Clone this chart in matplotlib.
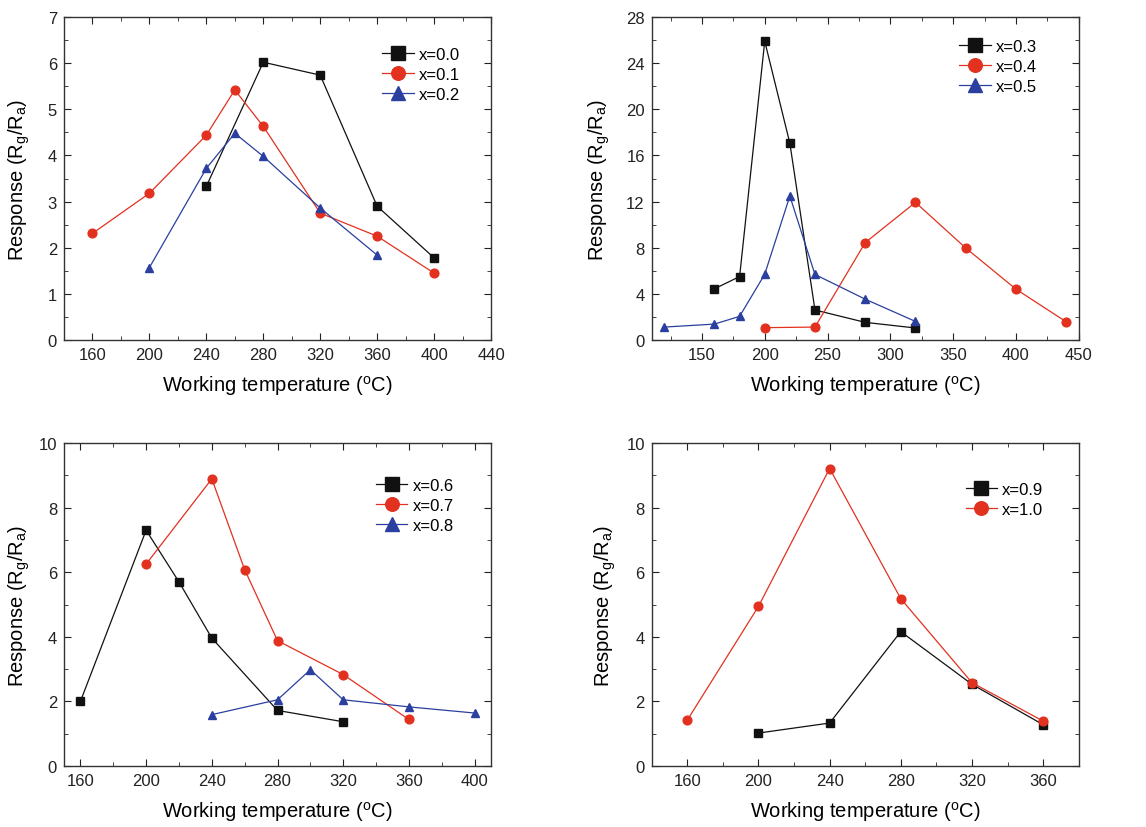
import numpy as np
import matplotlib
matplotlib.use('Agg')
import matplotlib.pyplot as plt
from matplotlib.ticker import MultipleLocator

plt.rcParams['font.family'] = ['Liberation Sans', 'DejaVu Sans']
plt.rcParams['mathtext.default'] = 'regular'

# panel a: x=0.0, 0.1, 0.2
t00 = [240, 280, 320, 360, 400]
r00 = [3.33, 6.02, 5.74, 2.90, 1.78]
t01 = [160, 200, 240, 260, 280, 320, 360, 400]
r01 = [2.31, 3.18, 4.44, 5.42, 4.63, 2.75, 2.25, 1.45]
t02 = [200, 240, 260, 280, 320, 360]
r02 = [1.57, 3.72, 4.48, 3.98, 2.86, 1.84]

# panel b: x=0.3, 0.4, 0.5
t03 = [160, 180, 200, 220, 240, 280, 320]
r03 = [4.44, 5.50, 25.9, 17.06, 2.60, 1.53, 1.04]
t04 = [200, 240, 280, 320, 360, 400, 440]
r04 = [1.07, 1.12, 8.44, 11.93, 7.98, 4.41, 1.58]
t05 = [120, 160, 180, 200, 220, 240, 280, 320]
r05 = [1.12, 1.38, 2.05, 5.70, 12.48, 5.68, 3.54, 1.61]

# panel c: x=0.6, 0.7, 0.8
t06 = [160, 200, 220, 240, 280, 320]
r06 = [2.00, 7.30, 5.70, 3.96, 1.72, 1.37]
t07 = [200, 240, 260, 280, 320, 360]
r07 = [6.25, 8.89, 6.08, 3.88, 2.83, 1.44]
t08 = [240, 280, 300, 320, 360, 400]
r08 = [1.59, 2.05, 2.98, 2.05, 1.83, 1.64]

# panel d: x=0.9, 1.0
t09 = [200, 240, 280, 320, 360]
r09 = [1.02, 1.33, 4.16, 2.53, 1.28]
t10 = [160, 200, 240, 280, 320, 360]
r10 = [1.42, 4.94, 9.21, 5.18, 2.58, 1.39]

negro = '#111111'
rojo = '#e2311f'
azul = '#2a3f9f'

def estilo(ax, xlim, ylim, xmaj, ymaj, ylx):
    ax.set_xlim(xlim)
    ax.set_ylim(ylim)
    ax.xaxis.set_major_locator(MultipleLocator(xmaj))
    ax.xaxis.set_minor_locator(MultipleLocator(xmaj / 2))
    ax.yaxis.set_major_locator(MultipleLocator(ymaj))
    ax.yaxis.set_minor_locator(MultipleLocator(ymaj / 2))
    ax.tick_params(which='both', direction='in', top=True, right=True,
                   labelsize=12, colors='#222222', pad=5)
    ax.tick_params(which='major', length=5)
    ax.tick_params(which='minor', length=3)
    for s in ax.spines.values():
        s.set_color('#333333')
        s.set_linewidth(1.0)
    ax.set_xlabel('Working temperature ($^{o}$C)', fontsize=14.5, labelpad=8)
    ax.set_ylabel('Response (R$_{g}$/R$_{a}$)', fontsize=14.5)
    ax.yaxis.set_label_coords(ylx, 0.5)

def serie(ax, t, r, c, m, lab):
    ax.plot(t, r, '-', color=c, marker=m, markersize=6.3, linewidth=0.9,
            markeredgecolor=c, label=lab)

def leyenda(ax, x, y):
    ax.legend(loc='upper left', bbox_to_anchor=(x, y), frameon=False,
              fontsize=12, markerscale=1.55, handlelength=1.9,
              handletextpad=0.3, labelspacing=0.3, borderpad=0,
              borderaxespad=0)

fig = plt.figure(figsize=(11.46, 8.28), dpi=100)

w = 427 / 1146
h = 323 / 828
ax1 = fig.add_axes([64 / 1146, 1 - 341 / 828, w, h])
ax2 = fig.add_axes([651.7 / 1146, 1 - 341 / 828, w, h])
ax3 = fig.add_axes([64 / 1146, 1 - 767 / 828, w, h])
ax4 = fig.add_axes([651.7 / 1146, 1 - 767 / 828, w, h])

serie(ax1, t00, r00, negro, 's', 'x=0.0')
serie(ax1, t01, r01, rojo, 'o', 'x=0.1')
serie(ax1, t02, r02, azul, '^', 'x=0.2')
estilo(ax1, (140, 440), (0, 7), 40, 1, -0.074)
leyenda(ax1, 0.745, 0.907)

serie(ax2, t03, r03, negro, 's', 'x=0.3')
serie(ax2, t04, r04, rojo, 'o', 'x=0.4')
serie(ax2, t05, r05, azul, '^', 'x=0.5')
estilo(ax2, (110, 450), (0, 28), 50, 4, -0.092)
leyenda(ax2, 0.72, 0.933)

serie(ax3, t06, r06, negro, 's', 'x=0.6')
serie(ax3, t07, r07, rojo, 'o', 'x=0.7')
serie(ax3, t08, r08, azul, '^', 'x=0.8')
estilo(ax3, (150, 410), (0, 10), 40, 2, -0.074)
leyenda(ax3, 0.73, 0.893)

serie(ax4, t09, r09, negro, 's', 'x=0.9')
serie(ax4, t10, r10, rojo, 'o', 'x=1.0')
estilo(ax4, (140, 380), (0, 10), 40, 2, -0.078)
leyenda(ax4, 0.735, 0.88)

fig.savefig('out.png', dpi=100)
